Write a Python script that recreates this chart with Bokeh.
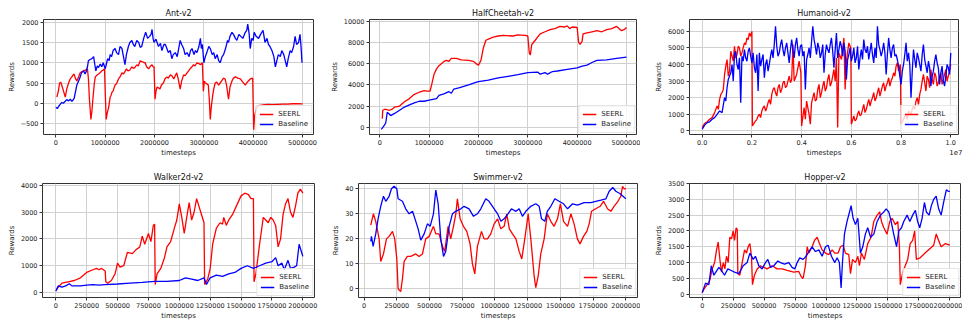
from bokeh.plotting import figure
from bokeh.layouts import column, row
from bokeh.models import Range1d, FixedTicker, LinearAxis
from bokeh.embed import file_html
from bokeh.resources import INLINE

FONT = "DejaVu Sans"
RED = "#ff0000"
BLUE = "#0000ff"

# ---------------- Ant-v2  (timesteps in millions, reward) ----------------
ant_seerl = [(0.02, 150), (0.05, 300), (0.075, 500), (0.1, 520), (0.13, 400), (0.155, 300), (0.19, 150),
             (0.22, 350), (0.257, 500), (0.29, 600), (0.324, 650), (0.35, 700), (0.37, 720), (0.4, 600),
             (0.425, 550), (0.46, 650), (0.493, 750), (0.53, 780), (0.56, 800), (0.6, 820), (0.64, 850),
             (0.66, 600), (0.68, 100), (0.71, -400), (0.73, -200), (0.75, 100), (0.78, 500), (0.8, 650),
             (0.83, 690), (0.865, 720), (0.9, 760), (0.93, 800), (0.96, 820), (0.986, 850), (1.0, 300),
             (1.02, -400), (1.04, -250), (1.07, -100), (1.1, 150), (1.12, 200), (1.14, 280), (1.16, 300),
             (1.18, 380), (1.2, 450), (1.23, 480), (1.27, 600), (1.3, 650), (1.34, 750), (1.37, 720),
             (1.4, 780), (1.43, 850), (1.46, 800), (1.5, 820), (1.54, 900), (1.57, 860), (1.6, 880),
             (1.64, 950), (1.67, 920), (1.71, 1050), (1.74, 1030), (1.76, 1020), (1.79, 1000), (1.81, 1000),
             (1.84, 900), (1.88, 850), (1.92, 920), (1.95, 950), (1.97, 900), (1.99, 900), (2.01, 100),
             (2.03, 300), (2.05, 400), (2.08, 380), (2.11, 350), (2.14, 450), (2.18, 500), (2.21, 600),
             (2.25, 650), (2.28, 620), (2.32, 700), (2.35, 680), (2.39, 600), (2.42, 680), (2.45, 750),
             (2.48, 600), (2.52, 350), (2.55, 550), (2.59, 700), (2.62, 680), (2.66, 750), (2.69, 800),
             (2.72, 850), (2.76, 900), (2.79, 950), (2.82, 920), (2.86, 1000), (2.9, 980), (2.93, 950),
             (2.97, 1000), (2.99, 300), (3.01, 550), (3.03, 500), (3.06, 480), (3.09, 450), (3.11, 100),
             (3.13, -400), (3.15, -100), (3.18, 200), (3.2, 350), (3.23, 500), (3.26, 520), (3.3, 450),
             (3.33, 500), (3.36, 550), (3.4, 620), (3.43, 600), (3.46, 450), (3.5, 100), (3.53, 400),
             (3.57, 550), (3.6, 620), (3.64, 650), (3.69, 620), (3.74, 600), (3.79, 520), (3.84, 450),
             (3.88, 520), (3.94, 600), (3.99, 620), (4.01, -650), (4.03, -300), (4.05, -200), (4.07, -100),
             (4.1, -60), (4.14, -50), (4.2, -40), (4.3, -30), (4.4, -35), (4.5, -25), (4.6, -20),
             (4.7, -20), (4.8, -12), (4.9, -10), (5.0, -15)]
ant_base = [(0, -100), (0.03, -130), (0.054, -80), (0.08, -40), (0.12, 20), (0.15, 0), (0.19, 50), (0.22, 90),
            (0.257, 60), (0.29, 100), (0.324, 50), (0.35, 80), (0.37, 120), (0.4, 300), (0.425, 450), (0.46, 550),
            (0.493, 650), (0.52, 750), (0.56, 800), (0.59, 720), (0.615, 780), (0.64, 900), (0.66, 1050),
            (0.69, 1080), (0.73, 1100), (0.765, 1150), (0.79, 950), (0.81, 800), (0.84, 920), (0.865, 880),
            (0.9, 970), (0.93, 900), (0.96, 1000), (1.0, 850), (1.03, 1000), (1.05, 1100), (1.08, 1050),
            (1.1, 1200), (1.13, 1150), (1.16, 1300), (1.2, 1350), (1.23, 1250), (1.27, 1200), (1.3, 1400),
            (1.34, 1350), (1.37, 1150), (1.4, 950), (1.43, 1200), (1.47, 1400), (1.5, 1500), (1.54, 1550),
            (1.57, 1450), (1.6, 1400), (1.64, 1550), (1.68, 1500), (1.71, 1380), (1.74, 1400), (1.78, 1600),
            (1.82, 1750), (1.86, 1600), (1.9, 1650), (1.93, 1700), (1.95, 1820), (1.97, 1600), (1.99, 1500),
            (2.03, 1580), (2.08, 1400), (2.12, 1480), (2.15, 1300), (2.19, 1450), (2.22, 1450), (2.25, 1350),
            (2.28, 1250), (2.32, 1300), (2.35, 1100), (2.38, 1200), (2.42, 1250), (2.46, 1150), (2.49, 1350),
            (2.52, 1550), (2.55, 1450), (2.59, 1350), (2.62, 1200), (2.66, 1250), (2.7, 1150), (2.73, 1300),
            (2.76, 1350), (2.8, 1200), (2.83, 1300), (2.86, 1250), (2.9, 1400), (2.93, 1600), (2.95, 1350),
            (2.97, 1450), (3.0, 1000), (3.03, 1150), (3.06, 1250), (3.1, 1400), (3.13, 1350), (3.17, 1200),
            (3.2, 1250), (3.23, 1100), (3.27, 1200), (3.3, 1050), (3.33, 1000), (3.37, 1150), (3.4, 1200),
            (3.44, 1350), (3.48, 1550), (3.5, 1500), (3.53, 1650), (3.57, 1750), (3.6, 1700), (3.64, 1600),
            (3.67, 1550), (3.71, 1700), (3.75, 1650), (3.79, 1600), (3.84, 1750), (3.87, 1800), (3.89, 1950),
            (3.92, 1700), (3.94, 1350), (3.97, 1600), (4.0, 1550), (4.02, 1750), (4.06, 1650), (4.11, 1600),
            (4.15, 1700), (4.2, 1800), (4.24, 1500), (4.28, 1600), (4.31, 1450), (4.34, 1400), (4.38, 1300),
            (4.42, 1150), (4.45, 900), (4.48, 1050), (4.51, 1200), (4.55, 1150), (4.58, 1300), (4.62, 1200),
            (4.65, 1050), (4.68, 900), (4.71, 1100), (4.75, 1300), (4.78, 1250), (4.82, 1400), (4.85, 1650),
            (4.88, 1450), (4.92, 1500), (4.95, 1700), (4.97, 1400), (4.99, 1000)]

# ---------------- HalfCheetah-v2 ----------------
hc_seerl_t = [0.05, 0.06, 0.1, 0.2, 0.25, 0.3, 0.4, 0.5, 0.6, 0.7,
              0.8, 0.9, 0.95, 1.02, 1.05, 1.1, 1.15, 1.2, 1.3, 1.35,
              1.4, 1.45, 1.55, 1.65, 1.8, 1.9, 1.95, 2.0, 2.05, 2.1,
              2.15, 2.2, 2.3, 2.4, 2.5, 2.7, 2.8, 2.95, 3.0, 3.03,
              3.05, 3.08, 3.15, 3.25, 3.35, 3.45, 3.55, 3.65, 3.75, 3.8,
              3.85, 3.9, 4.0, 4.03, 4.06, 4.1, 4.12, 4.2, 4.3, 4.4,
              4.5, 4.6, 4.7, 4.8, 4.9, 4.95, 5.0]
hc_seerl_r = [800, 1600, 1700, 1600, 1700, 1900, 2000, 2400, 2700, 3100,
              3300, 3450, 3400, 3400, 4000, 5000, 5500, 5800, 6200, 6300,
              6200, 6500, 6500, 6350, 6300, 6200, 6000, 5850, 6300, 7500,
              8200, 8300, 8500, 8600, 8650, 8600, 8700, 8650, 8600, 7000,
              6800, 7800, 8200, 8800, 9000, 9200, 9300, 9500, 9450, 9550,
              9300, 9450, 9400, 8000, 7800, 8100, 8800, 8900, 9000, 9100,
              9000, 9200, 9300, 9500, 9100, 9200, 9400]
hc_base_t = [0.03, 0.08, 0.12, 0.15, 0.18, 0.22, 0.3, 0.4, 0.5, 0.6,
             0.7, 0.8, 0.9, 1.0, 1.1, 1.15, 1.2, 1.3, 1.4, 1.45,
             1.5, 1.6, 1.7, 1.8, 1.9, 2.0, 2.2, 2.4, 2.6, 2.8,
             3.0, 3.2, 3.25, 3.35, 3.4, 3.5, 3.6, 3.8, 4.0, 4.1,
             4.2, 4.3, 4.4, 4.6, 4.8, 5.0]
hc_base_r = [-200, 100, 400, 1400, 1300, 1100, 1300, 1600, 1900, 2100,
             2300, 2450, 2450, 2550, 2650, 2700, 3000, 3150, 3350, 3200,
             3600, 3700, 3850, 4000, 4150, 4300, 4450, 4650, 4800, 4950,
             5150, 5200, 5000, 5150, 5000, 5250, 5300, 5450, 5600, 5750,
             5850, 6100, 6300, 6350, 6500, 6600]

# ---------------- Humanoid-v2 ----------------
hum_seerl = [(0.0, 200), (0.1, 450), (0.2, 550), (0.3, 700), (0.4, 800), (0.5, 1100), (0.6, 1500), (0.65, 1300),
             (0.7, 1900), (0.75, 2200), (0.8, 2300), (0.85, 2500), (0.9, 3400), (0.95, 3900), (1.0, 4300),
             (1.05, 3300), (1.1, 3600), (1.15, 4800), (1.2, 4500), (1.25, 4200), (1.3, 5100), (1.35, 4400),
             (1.4, 4600), (1.45, 5100), (1.5, 5000), (1.55, 4500), (1.6, 4700), (1.65, 5000), (1.7, 5300),
             (1.75, 5200), (1.8, 5600), (1.85, 5500), (1.9, 5900), (1.95, 5700), (2.0, 6000),
             (2.02, 300), (2.1, 500), (2.15, 600), (2.2, 700), (2.25, 900), (2.3, 1000), (2.35, 800), (2.4, 1200),
             (2.45, 1400), (2.5, 1500), (2.55, 1200), (2.6, 1400), (2.65, 1700), (2.7, 1900), (2.75, 1600),
             (2.8, 2200), (2.85, 2500), (2.9, 2600), (2.95, 2300), (3.0, 2100), (3.05, 2600), (3.1, 2800),
             (3.15, 2300), (3.2, 2500), (3.25, 2900), (3.3, 3000), (3.35, 2600), (3.4, 2700), (3.45, 3000),
             (3.5, 3300), (3.55, 2900), (3.6, 3100), (3.65, 5200), (3.7, 3000), (3.8, 3400), (3.9, 4200),
             (3.97, 3500), (4.0, 300), (4.1, 1400), (4.15, 700), (4.2, 1800), (4.3, 1000), (4.35, 400),
             (4.4, 1700), (4.45, 2000), (4.5, 2300), (4.55, 1800), (4.6, 1900), (4.65, 2500), (4.7, 2800),
             (4.75, 2000), (4.8, 2300), (4.85, 2700), (4.9, 3000), (4.95, 2400), (5.0, 2600), (5.05, 3100),
             (5.1, 3400), (5.15, 2700), (5.2, 2900), (5.25, 3300), (5.3, 3700), (5.35, 3000), (5.4, 4400),
             (5.45, 200), (5.5, 4700), (5.6, 4300), (5.7, 5600), (5.75, 2500), (5.8, 4200), (5.9, 5300),
             (5.98, 5000), (6.0, 400), (6.1, 900), (6.15, 600), (6.2, 700), (6.25, 1000), (6.3, 1200),
             (6.35, 900), (6.4, 1000), (6.45, 1300), (6.5, 1600), (6.55, 1100), (6.6, 1300), (6.65, 1600),
             (6.7, 1900), (6.75, 1500), (6.8, 1800), (6.85, 2000), (6.9, 2300), (6.95, 1800), (7.0, 2000),
             (7.05, 2300), (7.1, 2600), (7.15, 2100), (7.2, 2400), (7.25, 2700), (7.3, 2900), (7.35, 2400),
             (7.4, 2700), (7.45, 2900), (7.5, 3200), (7.55, 2700), (7.6, 3000), (7.65, 3200), (7.7, 3500),
             (7.75, 3300), (7.8, 3900), (7.85, 4100), (7.9, 3600), (7.97, 4000), (8.0, 400), (8.1, 700),
             (8.15, 900), (8.2, 900), (8.25, 700), (8.3, 1200), (8.35, 1100), (8.4, 1000), (8.45, 1300),
             (8.5, 1500), (8.55, 1300), (8.6, 1800), (8.65, 2000), (8.7, 1600), (8.75, 2200), (8.8, 2500),
             (8.85, 3000), (8.9, 3400), (8.95, 2900), (9.0, 2400), (9.05, 3300), (9.1, 3100), (9.15, 2600),
             (9.2, 3700), (9.25, 3100), (9.3, 2800), (9.35, 3500), (9.4, 3300), (9.45, 2700), (9.5, 2900),
             (9.55, 3300), (9.6, 3500), (9.65, 2800), (9.7, 3100), (9.75, 3400), (9.8, 3700), (9.85, 3000),
             (9.9, 3300), (9.95, 3600), (10.0, 4000)]
hum_base = [(0.0, 100), (0.1, 350), (0.2, 500), (0.3, 550), (0.4, 700), (0.5, 800), (0.6, 1000), (0.7, 1200),
            (0.8, 1100), (0.9, 2000), (0.95, 1800), (1.0, 2600), (1.05, 3100), (1.1, 3300), (1.15, 3500),
            (1.2, 4000), (1.25, 3000), (1.3, 4600), (1.35, 4800), (1.4, 4000), (1.45, 3700), (1.5, 4400),
            (1.55, 1700), (1.6, 4500), (1.65, 4200), (1.7, 4900), (1.75, 4400), (1.8, 4200), (1.85, 4800),
            (1.9, 5000), (1.95, 4500), (2.0, 4100), (2.05, 4700), (2.1, 3800), (2.15, 3500), (2.2, 4600),
            (2.25, 2400), (2.3, 4700), (2.35, 3900), (2.4, 4300), (2.45, 4600), (2.5, 3200), (2.55, 4000),
            (2.6, 4300), (2.65, 3600), (2.7, 4000), (2.75, 4500), (2.8, 4900), (2.85, 4400), (2.9, 5200),
            (2.95, 6300), (3.0, 5100), (3.05, 4500), (3.1, 4700), (3.15, 5200), (3.2, 5500), (3.25, 4900),
            (3.3, 4500), (3.35, 5000), (3.4, 5300), (3.45, 4700), (3.5, 4100), (3.55, 4900), (3.6, 5500),
            (3.65, 4900), (3.7, 4400), (3.75, 5200), (3.8, 5600), (3.85, 4900), (3.9, 4500), (3.95, 5100),
            (4.0, 5200), (4.05, 4500), (4.1, 4800), (4.15, 2500), (4.2, 4300), (4.25, 4600), (4.3, 5000),
            (4.35, 4400), (4.4, 5400), (4.45, 6300), (4.5, 5500), (4.55, 5100), (4.6, 4600), (4.65, 5300),
            (4.7, 5000), (4.75, 4400), (4.8, 4700), (4.85, 5200), (4.9, 3500), (4.95, 4600), (5.0, 5200),
            (5.05, 4900), (5.1, 4700), (5.15, 5200), (5.2, 5600), (5.25, 4800), (5.3, 3800), (5.35, 4900),
            (5.4, 5900), (5.45, 4400), (5.5, 4900), (5.55, 5400), (5.6, 5100), (5.65, 4500), (5.7, 5300),
            (5.75, 4800), (5.8, 3100), (5.85, 4300), (5.9, 4600), (5.95, 5000), (6.0, 4200), (6.05, 4500),
            (6.1, 5000), (6.15, 4100), (6.2, 4400), (6.25, 5100), (6.3, 3700), (6.35, 4400), (6.4, 4900),
            (6.45, 4300), (6.5, 5500), (6.55, 4900), (6.6, 4700), (6.65, 5100), (6.7, 4300), (6.75, 4800),
            (6.8, 5300), (6.85, 4600), (6.9, 4100), (6.95, 5000), (7.0, 4400), (7.05, 6300), (7.1, 5200),
            (7.15, 4900), (7.2, 4500), (7.25, 4800), (7.3, 5300), (7.35, 4700), (7.4, 3400), (7.45, 4600),
            (7.5, 5600), (7.55, 4900), (7.6, 4400), (7.65, 5000), (7.7, 5200), (7.75, 4500), (7.8, 4600),
            (7.85, 4300), (7.9, 3900), (7.95, 3300), (8.0, 2800), (8.05, 3600), (8.1, 4000), (8.15, 4600),
            (8.2, 5300), (8.25, 4200), (8.3, 4700), (8.35, 4000), (8.4, 2000), (8.45, 3600), (8.5, 4900),
            (8.55, 4300), (8.6, 3800), (8.65, 4700), (8.7, 4400), (8.75, 4000), (8.8, 3600), (8.85, 4600),
            (8.9, 5200), (8.95, 4300), (9.0, 3900), (9.05, 3500), (9.1, 4200), (9.15, 3800), (9.2, 2700),
            (9.25, 3300), (9.3, 3600), (9.35, 4200), (9.4, 4600), (9.45, 4100), (9.5, 3800), (9.55, 2800),
            (9.6, 3500), (9.65, 3900), (9.7, 3000), (9.75, 2700), (9.8, 3300), (9.85, 4000), (9.9, 3800),
            (9.95, 3400), (10.0, 4700)]

# ---------------- Walker2d-v2 ----------------
wk_seerl_t = [0.005, 0.02, 0.05, 0.1, 0.15, 0.2, 0.25, 0.3, 0.33, 0.35,
              0.37, 0.4, 0.405, 0.42, 0.45, 0.48, 0.5, 0.52, 0.55, 0.58,
              0.62, 0.65, 0.68, 0.7, 0.72, 0.75, 0.77, 0.79, 0.8, 0.805,
              0.82, 0.85, 0.88, 0.9, 0.93, 0.96, 0.98, 1.0, 1.02, 1.04,
              1.06, 1.08, 1.1, 1.12, 1.14, 1.16, 1.18, 1.2, 1.205, 1.23,
              1.25, 1.27, 1.3, 1.33, 1.35, 1.36, 1.38, 1.4, 1.43, 1.46,
              1.5, 1.53, 1.56, 1.58, 1.6, 1.605, 1.62, 1.65, 1.68, 1.7,
              1.72, 1.74, 1.76, 1.78, 1.8, 1.82, 1.84, 1.86, 1.88, 1.9,
              1.92, 1.94, 1.96, 1.98, 2.0]
wk_seerl_r = [100, 200, 350, 400, 450, 550, 750, 850, 900, 850,
              900, 800, 400, 350, 450, 700, 1100, 950, 1000, 1500,
              1450, 1600, 1700, 2100, 1800, 2200, 1900, 2500, 2550, 300,
              700, 900, 1300, 1700, 1900, 2400, 2700, 3300, 2800, 2200,
              2800, 3350, 2700, 3000, 3500, 3200, 2900, 2600, 300, 500,
              900, 1800, 2400, 2600, 2550, 2800, 2500, 2700, 2900, 3200,
              3600, 3700, 3650, 3500, 3500, 400, 700, 1800, 2800, 2700,
              2600, 2800, 2700, 2500, 1700, 2000, 2900, 3300, 3500, 3000,
              2800, 3200, 3700, 3850, 3700]
wk_base_t = [0, 0.02, 0.05, 0.08, 0.11, 0.13, 0.2, 0.25, 0.3, 0.35,
             0.4, 0.5, 0.6, 0.7, 0.8, 0.9, 1.0, 1.05, 1.1, 1.15,
             1.2, 1.22, 1.25, 1.3, 1.35, 1.4, 1.45, 1.5, 1.55, 1.6,
             1.65, 1.7, 1.75, 1.78, 1.8, 1.83, 1.85, 1.88, 1.9, 1.93,
             1.95, 1.97, 1.99, 2.0]
wk_base_r = [50, 250, 200, 250, 330, 250, 250, 280, 300, 280,
             300, 320, 350, 380, 420, 420, 450, 550, 500, 450,
             550, 300, 550, 650, 600, 700, 750, 900, 1000, 900,
             1000, 1100, 1150, 1300, 1000, 1100, 850, 1200, 900, 950,
             1000, 1800, 1500, 1350]

# ---------------- Swimmer-v2 ----------------
sw_seerl_t = [0.051, 0.071, 0.089, 0.115, 0.127, 0.148, 0.171, 0.191, 0.217, 0.234,
              0.25, 0.26, 0.28, 0.293, 0.306, 0.331, 0.357, 0.395, 0.42, 0.446,
              0.471, 0.497, 0.522, 0.53, 0.548, 0.573, 0.599, 0.616, 0.642, 0.662,
              0.683, 0.701, 0.713, 0.734, 0.759, 0.785, 0.81, 0.828, 0.846, 0.866,
              0.897, 0.917, 0.943, 0.968, 0.994, 1.02, 1.045, 1.07, 1.09, 1.11,
              1.134, 1.16, 1.185, 1.205, 1.228, 1.254, 1.274, 1.3, 1.312, 1.33,
              1.35, 1.376, 1.4, 1.427, 1.452, 1.478, 1.5, 1.524, 1.555, 1.58,
              1.605, 1.63, 1.65, 1.677, 1.702, 1.72, 1.738, 1.77, 1.804, 1.83,
              1.86, 1.886, 1.91, 1.94, 1.962, 1.975, 1.987, 2.0]
sw_seerl_r = [25.5, 30, 27, 20, 11, 14, 20, 21, 23, 20,
              12, 0, -1, 4, 11, 13, 13, 14, 13, 14,
              20, 21, 24, 25, 22, 22, 17, 15, 25, 20,
              25, 30, 36, 28, 25, 23, 18, 10, 6, 17,
              23, 20, 20, 22, 26, 28, 24, 25, 30, 24,
              22, 20, 15, 12, 20, 30, 20, 5, 0.5, 5,
              14, 20, 30, 27, 25, 28, 34, 27, 25, 30,
              26, 20, 18, 21, 23, 26, 31, 32, 33, 35,
              32, 31, 33, 35, 37, 41, 40, 40]
sw_base_t = [0.051, 0.056, 0.069, 0.089, 0.107, 0.127, 0.148, 0.166, 0.191, 0.209,
             0.229, 0.25, 0.26, 0.293, 0.318, 0.344, 0.37, 0.395, 0.413, 0.433,
             0.459, 0.484, 0.505, 0.53, 0.548, 0.566, 0.586, 0.607, 0.624, 0.65,
             0.675, 0.7, 0.739, 0.764, 0.802, 0.836, 0.866, 0.892, 0.93, 0.955,
             0.994, 1.02, 1.045, 1.07, 1.1, 1.126, 1.16, 1.185, 1.21, 1.236,
             1.274, 1.312, 1.338, 1.356, 1.381, 1.4, 1.427, 1.458, 1.49, 1.524,
             1.555, 1.593, 1.63, 1.682, 1.733, 1.77, 1.81, 1.848, 1.873, 1.9,
             1.924, 1.957, 2.0]
sw_base_r = [19, 21, 17, 22, 28, 33, 37, 35, 37, 40,
             41, 40, 36, 35, 32, 30, 31, 27, 24, 19.5,
             22, 26, 25, 30, 39.5, 34, 20, 13, 15, 25,
             30, 31, 32, 33, 32, 29, 30, 32, 36, 35,
             32, 30, 27, 28, 30, 32, 31, 32, 29, 31,
             33, 34, 33, 28, 27, 31, 33, 36, 35, 34,
             32, 34, 33.5, 34.5, 34.5, 35, 35.5, 36, 39, 40.5,
             39, 38, 36]

# ---------------- Hopper-v2 ----------------
hp_seerl_t = [0, 0.013, 0.04, 0.062, 0.081, 0.1, 0.116, 0.129, 0.143, 0.156,
              0.17, 0.183, 0.196, 0.21, 0.223, 0.237, 0.25, 0.261, 0.274, 0.283,
              0.288, 0.304, 0.323, 0.342, 0.358, 0.371, 0.385, 0.398, 0.406, 0.422,
              0.444, 0.471, 0.498, 0.525, 0.565, 0.605, 0.646, 0.686, 0.74, 0.78,
              0.8, 0.815, 0.834, 0.848, 0.861, 0.888, 0.907, 0.928, 0.947, 0.969,
              0.996, 1.022, 1.05, 1.07, 1.098, 1.117, 1.138, 1.157, 1.184, 1.198,
              1.214, 1.238, 1.257, 1.27, 1.286, 1.31, 1.337, 1.364, 1.386, 1.413,
              1.434, 1.448, 1.467, 1.493, 1.515, 1.534, 1.56, 1.58, 1.593, 1.6,
              1.62, 1.64, 1.66, 1.68, 1.7, 1.716, 1.73, 1.76, 1.8, 1.843,
              1.87, 1.89, 1.91, 1.93, 1.965, 2.0]
hp_seerl_r = [50, 150, 300, 450, 800, 1000, 1400, 1650, 1100, 700,
              1000, 800, 1200, 1000, 1800, 1750, 2000, 1700, 2100, 2050,
              650, 600, 1000, 1400, 1300, 1500, 1600, 1200, 300, 600,
              800, 900, 850, 800, 900, 800, 800, 750, 700, 720,
              550, 500, 900, 1500, 1300, 1500, 1700, 1800, 1600, 1400,
              1300, 1250, 1400, 1300, 1300, 1500, 1550, 1300, 1250, 650,
              1100, 1000, 1200, 900, 1300, 1100, 1600, 1800, 2300, 2500,
              2600, 2300, 2100, 1900, 2300, 2400, 2200, 2300, 1500, 300,
              700, 900, 1100, 1600, 1700, 2000, 1100, 1150, 1300, 1450,
              1550, 1900, 1700, 1500, 1600, 1550]
hp_base_t = [0, 0.027, 0.054, 0.073, 0.094, 0.11, 0.135, 0.156, 0.18, 0.207,
             0.234, 0.261, 0.296, 0.331, 0.363, 0.385, 0.412, 0.43, 0.457, 0.484,
             0.511, 0.53, 0.552, 0.578, 0.611, 0.632, 0.665, 0.7, 0.726, 0.748,
             0.767, 0.788, 0.815, 0.84, 0.861, 0.888, 0.915, 0.942, 0.969, 0.996,
             1.017, 1.044, 1.071, 1.09, 1.108, 1.122, 1.133, 1.149, 1.17, 1.19,
             1.203, 1.219, 1.238, 1.257, 1.278, 1.297, 1.318, 1.337, 1.36, 1.386,
             1.413, 1.44, 1.467, 1.486, 1.507, 1.526, 1.547, 1.57, 1.588, 1.61,
             1.628, 1.655, 1.677, 1.7, 1.722, 1.74, 1.757, 1.776, 1.795, 1.811,
             1.833, 1.851, 1.87, 1.89, 1.91, 1.93, 1.95, 1.972, 1.99, 2.0]
hp_base_r = [50, 350, 300, 900, 600, 700, 850, 750, 600, 800,
             750, 700, 650, 900, 1000, 1300, 1100, 1200, 900, 800,
             1000, 1100, 850, 900, 1050, 1000, 950, 1000, 850, 800,
             1000, 1150, 1100, 1200, 1350, 1500, 1350, 1400, 1200, 1500,
             1550, 1200, 1000, 1150, 1000, 200, 1000, 1900, 2300, 2600,
             2800, 2400, 2200, 2400, 1300, 1500, 1900, 2100, 1800, 1900,
             2300, 2500, 2600, 2700, 2600, 2300, 1900, 1500, 2000, 2100,
             2300, 2500, 2300, 2500, 2650, 2300, 2100, 2400, 2900, 2600,
             2500, 2800, 3000, 3100, 2700, 2500, 2900, 3300, 3250, 3250]

# ---------------- ticks ----------------
ticks_5m = [0, 1000000, 2000000, 3000000, 4000000, 5000000]
labels_5m = ["0", "1000000", "2000000", "3000000", "4000000", "5000000"]
ticks_2m = [0, 250000, 500000, 750000, 1000000, 1250000, 1500000, 1750000, 2000000]
labels_2m = ["0", "250000", "500000", "750000", "1000000", "1250000", "1500000", "1750000", "2000000"]
ticks_1e7 = [0, 2000000, 4000000, 6000000, 8000000, 10000000]
labels_1e7 = ["0.0", "0.2", "0.4", "0.6", "0.8", "1.0"]
hum_offset_text = "1e7"

ant_yticks = [-500, 0, 500, 1000, 1500, 2000]
ant_ylabels = ["\u2212500", "0", "500", "1000", "1500", "2000"]
hc_yticks = [0, 2000, 4000, 6000, 8000, 10000]
hc_ylabels = ["0", "2000", "4000", "6000", "8000", "10000"]
hum_yticks = [0, 1000, 2000, 3000, 4000, 5000, 6000]
hum_ylabels = ["0", "1000", "2000", "3000", "4000", "5000", "6000"]
wk_yticks = [0, 1000, 2000, 3000, 4000]
wk_ylabels = ["0", "1000", "2000", "3000", "4000"]
sw_yticks = [0, 10, 20, 30, 40]
sw_ylabels = ["0", "10", "20", "30", "40"]
hp_yticks = [0, 500, 1000, 1500, 2000, 2500, 3000, 3500]
hp_ylabels = ["0", "500", "1000", "1500", "2000", "2500", "3000", "3500"]


def steps(ts):
    return [t * 1e6 for t in ts]


def unzip(pairs):
    return steps([a for a, _ in pairs]), [b for _, b in pairs]


def style_axis(ax, size="6.5px"):
    ax.axis_line_color = None
    ax.major_tick_line_color = "#333333"
    ax.major_tick_out = 3
    ax.major_tick_in = 0
    ax.minor_tick_line_color = None
    ax.major_label_text_font = FONT
    ax.major_label_text_font_size = size
    ax.major_label_text_color = "#222222"
    ax.major_label_standoff = 2
    ax.axis_label_text_font = FONT
    ax.axis_label_text_font_size = "7px"
    ax.axis_label_text_font_style = "normal"
    ax.axis_label_text_color = "#222222"


def panel(title, red, blue, xr, yr, xt, xl, yt, yl, w, h, borders, xlabel=True):
    bl, br, bt, bb = borders
    p = figure(width=w, height=h, x_range=Range1d(*xr), y_range=Range1d(*yr),
               output_backend="svg", toolbar_location=None,
               min_border_left=bl, min_border_right=br,
               min_border_top=bt, min_border_bottom=bb,
               background_fill_color="white", border_fill_color="white")
    p.title.text = title
    p.title.align = "center"
    p.title.text_font = FONT
    p.title.text_font_size = "8px"
    p.title.text_font_style = "normal"
    p.title.text_color = "#111111"
    p.title.standoff = 4
    p.outline_line_color = "#333333"
    p.outline_line_width = 1
    p.xaxis.ticker = FixedTicker(ticks=xt)
    p.yaxis.ticker = FixedTicker(ticks=yt)
    p.xaxis.major_label_overrides = {t: s for t, s in zip(xt, xl)}
    p.yaxis.major_label_overrides = {t: s for t, s in zip(yt, yl)}
    if xlabel:
        p.xaxis.axis_label = "timesteps"
    p.yaxis.axis_label = "Rewards"
    style_axis(p.xaxis[0])
    style_axis(p.yaxis[0])
    p.xaxis.axis_label_standoff = 1
    p.yaxis.axis_label_standoff = 2
    p.xgrid.grid_line_color = "#d0d0d0"
    p.ygrid.grid_line_color = "#d0d0d0"
    p.line(red[0], red[1], line_color=RED, line_width=1.3, legend_label="SEERL")
    p.line(blue[0], blue[1], line_color=BLUE, line_width=1.3, legend_label="Baseline")
    lg = p.legend[0]
    lg.location = "bottom_right"
    lg.label_text_font = FONT
    lg.label_text_font_size = "7px"
    lg.label_text_color = "#222222"
    lg.glyph_width = 14
    lg.glyph_height = 10
    lg.label_height = 10
    lg.label_standoff = 5
    lg.spacing = 0
    lg.padding = 3
    lg.margin = 1
    lg.border_line_color = "#cccccc"
    lg.background_fill_alpha = 0.8
    return p


p_ant = panel("Ant-v2", unzip(ant_seerl), unzip(ant_base),
              (-251000, 5223000), (-770, 2066), ticks_5m, labels_5m, ant_yticks, ant_ylabels,
              320, 161, (43, 7, 19, 27))
p_hc = panel("HalfCheetah-v2", (steps(hc_seerl_t), hc_seerl_r), (steps(hc_base_t), hc_base_r),
             (-209000, 5203000), (-685, 10156), ticks_5m, labels_5m, hc_yticks, hc_ylabels,
             320, 161, (49, 4, 19, 26))
p_hum = panel("Humanoid-v2", unzip(hum_seerl), unzip(hum_base),
              (-510000, 10310000), (-217, 6710), ticks_1e7, labels_1e7, hum_yticks, hum_ylabels,
              322, 161, (49, 4, 17, 27), xlabel=False)
# second row under the Humanoid axis: the axis title and the matplotlib-style offset text
hum_axis2 = LinearAxis(ticker=FixedTicker(ticks=[4900000, 10230000]),
                       major_label_overrides={4900000: "timesteps", 10230000: hum_offset_text})
style_axis(hum_axis2, size="7px")
hum_axis2.major_tick_line_color = None
hum_axis2.major_tick_out = 0
hum_axis2.major_label_standoff = 1
p_hum.add_layout(hum_axis2, "below")

p_wk = panel("Walker2d-v2", (steps(wk_seerl_t), wk_seerl_r), (steps(wk_base_t), wk_base_r),
             (-107600, 2094600), (-183, 4061), ticks_2m, labels_2m, wk_yticks, wk_ylabels,
             320, 161, (42, 6, 22, 22))
p_sw = panel("Swimmer-v2", (steps(sw_seerl_t), sw_seerl_r), (steps(sw_base_t), sw_base_r),
             (-42800, 2089400), (-3.4, 42.1), ticks_2m, labels_2m, sw_yticks, sw_ylabels,
             320, 161, (38, 3, 22, 23))
p_hp = panel("Hopper-v2", (steps(hp_seerl_t), hp_seerl_r), (steps(hp_base_t), hp_base_r),
             (-102600, 2086400), (-104, 3500), ticks_2m, labels_2m, hp_yticks, hp_ylabels,
             322, 161, (49, 2, 22, 23))

layout = column(row(p_ant, p_hc, p_hum), row(p_wk, p_sw, p_hp))
open("out.html", "w").write(file_html(layout, INLINE))
